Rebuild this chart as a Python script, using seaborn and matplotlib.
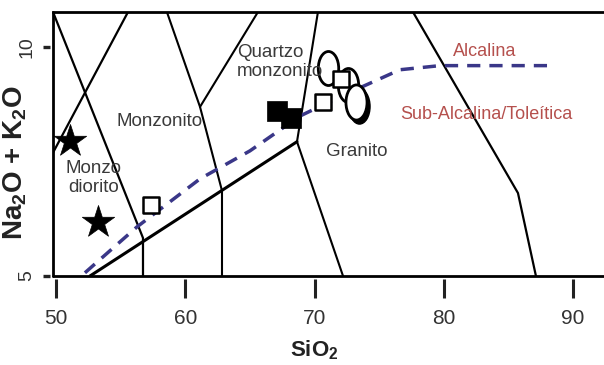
import matplotlib
matplotlib.use('Agg')
import matplotlib.pyplot as plt
import seaborn as sns
from matplotlib.path import Path
from matplotlib.markers import MarkerStyle
from matplotlib.transforms import Affine2D, offset_copy

# field boundaries, SiO2 vs Na2O + K2O (wt %)
line_a_x = [49.77, 56.73, 56.73]
line_a_y = [10.76, 5.83, 5.0]
line_b_x = [49.77, 55.57]
line_b_y = [7.69, 10.76]
line_c_x = [58.58, 61.14, 62.84, 62.84]
line_c_y = [10.76, 8.69, 6.86, 5.0]
line_d_x = [65.62, 61.14]
line_d_y = [10.76, 8.69]
line_e_x = [52.63, 68.64]
line_e_y = [5.0, 7.93]
line_f_x = [70.26, 68.64, 72.20]
line_f_y = [10.76, 7.93, 5.0]
line_g_x = [77.61, 85.73, 87.12]
line_g_y = [10.76, 6.81, 5.0]

# alkaline / sub-alkaline divide
alk_x = [52.24, 56.26, 61.14, 65.00, 68.87, 71.96, 76.60, 79.70, 88.44]
alk_y = [5.07, 6.07, 7.12, 7.73, 8.49, 8.91, 9.50, 9.59, 9.59]

# samples
star_x = [51.08, 53.25]
star_y = [7.95, 6.18]
filled_sq_x = [67.09, 68.17]
filled_sq_y = [8.60, 8.45]
open_sq_x = [57.35, 70.65, 72.04]
open_sq_y = [6.55, 8.80, 9.30]
ellipse_x = [71.04, 72.58, 73.20]
ellipse_y = [9.54, 9.17, 8.80]

field_names = ['Quartzo\nmonzonito', 'Monzonito', 'Monzo\ndiorito', 'Granito']
field_x = [64.0, 58.04, 52.94, 73.28]
field_y = [9.67, 8.38, 7.14, 7.71]
series_names = ['Alcalina', 'Sub-Alcalina/Toleítica']
series_x = [83.18, 83.26]
series_y = [9.89, 8.52]

x_ticks = [50, 60, 70, 80, 90]
y_ticks = [5, 10]

sns.set_theme(style='white')
plt.rcParams['font.family'] = ['Liberation Sans', 'DejaVu Sans']

fig = plt.figure(figsize=(6.04, 3.65), dpi=100)
ax = fig.add_axes([53 / 604, 89 / 365, 560 / 604, 264 / 365])
ax.set_xlim(49.77, 93.08)
ax.set_ylim(5.0, 10.76)

boundaries = [
    (line_a_x, line_a_y, 1.6),
    (line_b_x, line_b_y, 1.6),
    (line_c_x, line_c_y, 1.5),
    (line_d_x, line_d_y, 1.5),
    (line_e_x, line_e_y, 2.2),
    (line_f_x, line_f_y, 1.5),
    (line_g_x, line_g_y, 1.6),
]
for bx, by, lw in boundaries:
    sns.lineplot(x=bx, y=by, ax=ax, color='black', lw=lw, sort=False,
                 estimator=None, zorder=2)

sns.lineplot(x=alk_x, y=alk_y, ax=ax, color='#3a3788', lw=2.5, sort=False,
             estimator=None, linestyle=(0, (3.8, 2.6)), zorder=3)

# frame
ax.spines['top'].set_linewidth(2.0)
ax.spines['top'].set_color('black')
ax.spines['right'].set_visible(False)
for side in ['left', 'bottom']:
    ax.spines[side].set_visible(False)
ax.spines['bottom'].set_position(('outward', 2.5))
ax.spines['left'].set_position(('outward', 2.5))
ax.axvline(49.77, color='black', lw=2.0, clip_on=False, zorder=2)
ax.axhline(5.0, color='black', lw=2.0, clip_on=False, zorder=2)

# markers
sns.scatterplot(x=star_x, y=star_y, ax=ax, marker='*', s=600, color='black',
                edgecolor='black', linewidth=0.5, zorder=6)
sns.scatterplot(x=filled_sq_x, y=filled_sq_y, ax=ax, marker='s', s=210,
                color='black', edgecolor='black', linewidth=0.5, zorder=6)

ell = MarkerStyle(Path.unit_circle().transformed(Affine2D().scale(0.6, 1.0)))
shadow = offset_copy(ax.transData, fig=fig, x=3, y=-4, units='dots')
ax.scatter([ellipse_x[2]], [ellipse_y[2]], marker=ell, s=640, color='black',
           transform=shadow, zorder=4)
sns.scatterplot(x=ellipse_x[2:], y=ellipse_y[2:], ax=ax, marker=ell,
                s=640, facecolor='white', edgecolor='black', linewidth=2.0, zorder=5)
sns.scatterplot(x=ellipse_x[:2][::-1], y=ellipse_y[:2][::-1], ax=ax, marker=ell,
                s=600, facecolor='white', edgecolor='black', linewidth=2.0, zorder=4)
sns.scatterplot(x=open_sq_x, y=open_sq_y, ax=ax, marker='s', s=135,
                facecolor='white', edgecolor='black', linewidth=1.8, zorder=6)

for name, tx, ty in zip(field_names, field_x, field_y):
    ha = 'left' if name.startswith('Quartzo') else 'center'
    ax.text(tx, ty, name, ha=ha, va='center', fontsize=13.5, color='#3a3a3a',
            linespacing=1.2, zorder=7)
for name, tx, ty in zip(series_names, series_x, series_y):
    ax.text(tx, ty, name, ha='center', va='center', fontsize=13,
            color='#b5504d', zorder=7)

ax.set_xticks(x_ticks)
ax.set_yticks(y_ticks)
ax.tick_params(axis='x', direction='out', length=14, width=2.2, color='#222222',
               labelsize=15, labelcolor='#333333', pad=7, bottom=True)
ax.tick_params(axis='y', direction='out', length=5, width=2.4, color='#222222',
               labelsize=14, labelcolor='#333333', pad=5, labelrotation=90, left=True)
for lab in ax.get_yticklabels():
    lab.set_va('center')
ax.grid(False)

ax.set_xlabel('SiO$_\\mathregular{2}$', fontsize=16, fontweight='bold', color='#222222')
ax.xaxis.set_label_coords((314 - 53) / 560, -0.235)
fig.text(15 / 604, (365 - 163) / 365, 'Na$_\\mathregular{2}$O + K$_\\mathregular{2}$O',
         rotation=90, ha='center', va='center', fontsize=20, fontweight='bold',
         color='#222222')

fig.savefig('out.png', dpi=100)
